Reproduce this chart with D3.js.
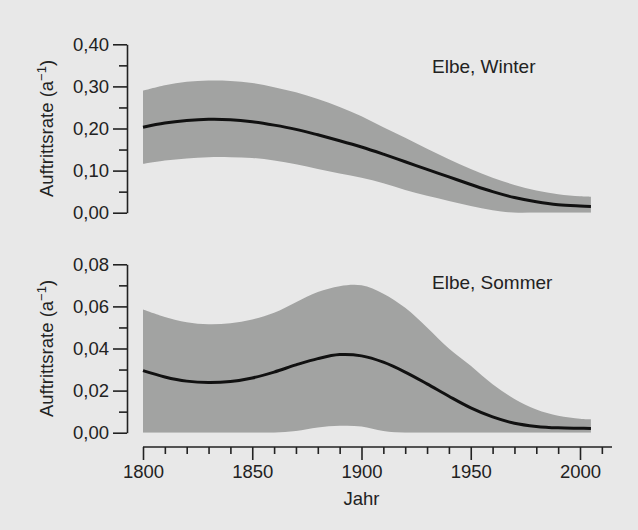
<!DOCTYPE html>
<html>
<head>
<meta charset="utf-8">
<script src="https://cdn.jsdelivr.net/npm/d3@7"></script>
<style>
  body { margin: 0; background: #e8e8e8; }
  svg { display: block; font-family: 'Liberation Sans', Arial, sans-serif; }
  .axis path, .axis line { stroke: #222; stroke-width: 1.6px; }
  .axis text { fill: #222; font-size: 18.5px; }
</style>
</head>
<body>
<svg width="638" height="530"></svg>
<script>
  const years = [1800, 1810, 1820, 1830, 1840, 1850, 1860, 1870, 1880, 1890, 1900,
    1910, 1920, 1930, 1940, 1950, 1960, 1970, 1980, 1990, 2000, 2005]

  // Elbe, Winter
  const winterMean = [0.203, 0.213, 0.219, 0.222, 0.221, 0.216, 0.208, 0.198, 0.185, 0.171, 0.156,
    0.139, 0.121, 0.103, 0.085, 0.067, 0.050, 0.036, 0.026, 0.019, 0.016, 0.015]
  const winterUpper = [0.290, 0.303, 0.311, 0.314, 0.313, 0.308, 0.298, 0.286, 0.270, 0.251, 0.229,
    0.203, 0.178, 0.152, 0.127, 0.104, 0.083, 0.066, 0.053, 0.044, 0.039, 0.038]
  const winterLower = [0.116, 0.124, 0.129, 0.132, 0.132, 0.130, 0.124, 0.115, 0.104, 0.093, 0.083,
    0.070, 0.054, 0.040, 0.028, 0.016, 0.006, 0, 0, 0, 0, 0]

  // Elbe, Sommer
  const sommerMean = [0.0295, 0.0265, 0.0245, 0.0238, 0.0243, 0.0260, 0.0288, 0.0322, 0.0352, 0.0371, 0.0365,
    0.0335, 0.0288, 0.0232, 0.0173, 0.0118, 0.0075, 0.0045, 0.0030, 0.0023, 0.0021, 0.0020]
  const sommerUpper = [0.0585, 0.0550, 0.0525, 0.0515, 0.0520, 0.0538, 0.0570, 0.0620, 0.0668, 0.0696, 0.0700,
    0.0660, 0.0593, 0.0500, 0.0400, 0.0318, 0.0230, 0.0160, 0.0110, 0.0080, 0.0066, 0.0063]
  const sommerLower = [0, 0, 0, 0, 0, 0, 0, 0.0008, 0.0025, 0.0033, 0.0030,
    0.0008, 0, 0, 0, 0, 0, 0, 0, 0, 0, 0]

  const winterTicks = [0, 0.1, 0.2, 0.3, 0.4]
  const sommerTicks = [0, 0.02, 0.04, 0.06, 0.08]
  const yearTicks = [1800, 1850, 1900, 1950, 2000]

  const svg = d3.select('svg')
  const fmt = d => d3.format('.2f')(d).replace('.', ',')
  const curve = d3.curveCatmullRom.alpha(0.5)

  const x = d3.scaleLinear().domain([1800, 2000]).range([143, 580])

  function panel(opts) {
    const y = d3.scaleLinear().domain(opts.domain).range(opts.range)
    const g = svg.append('g')
    const rows = years.map((yr, i) => ({ yr, m: opts.mean[i], hi: opts.upper[i], lo: opts.lower[i] }))

    svg.append('clipPath').
      attr('id', opts.id).
      append('rect').
      attr('x', 0).attr('y', 0).attr('width', 638).attr('height', opts.range[0])

    g.append('path').
      datum(rows).
      attr('clip-path', `url(#${opts.id})`).
      attr('fill', '#a2a3a2').
      attr('d', d3.area().curve(curve).
        x(d => x(d.yr)).y0(d => y(d.lo)).y1(d => y(d.hi)))

    g.append('path').
      datum(rows).
      attr('fill', 'none').
      attr('stroke', '#111').
      attr('stroke-width', 3).
      attr('d', d3.line().curve(curve).x(d => x(d.yr)).y(d => y(d.m)))

    // minor ticks
    const step = opts.ticks[1] - opts.ticks[0]
    g.append('g').
      attr('class', 'axis').
      attr('transform', 'translate(127,0)').
      call(d3.axisLeft(y).tickValues(opts.ticks.slice(0, -1).map(t => t + step / 2)).
        tickSize(8).tickFormat('').tickSizeOuter(0)).
      call(a => a.select('.domain').remove())

    g.append('g').
      attr('class', 'axis').
      attr('transform', 'translate(127,0)').
      call(d3.axisLeft(y).tickValues(opts.ticks).tickFormat(fmt).tickSize(14).tickPadding(4).tickSizeOuter(0))

    const mid = (opts.range[0] + opts.range[1]) / 2
    const t = g.append('text').
      attr('transform', `translate(53,${mid}) rotate(-90)`).
      attr('text-anchor', 'middle').
      attr('fill', '#222').
      style('font-size', '18.5px')
    t.append('tspan').text('Auftrittsrate (a')
    t.append('tspan').attr('dy', -7).style('font-size', '13px').text('\u22121')
    t.append('tspan').attr('dy', 7).text(')')

    g.append('text').
      attr('x', 432).
      attr('y', opts.labelY).
      attr('fill', '#222').
      style('font-size', '19px').
      text(opts.label)
  }

  panel({
    id: 'clipW', domain: [0, 0.4], range: [212.7, 44.3], ticks: winterTicks,
    mean: winterMean, upper: winterUpper, lower: winterLower,
    label: 'Elbe, Winter', labelY: 73
  })

  panel({
    id: 'clipS', domain: [0, 0.08], range: [432.7, 264.3], ticks: sommerTicks,
    mean: sommerMean, upper: sommerUpper, lower: sommerLower,
    label: 'Elbe, Sommer', labelY: 289
  })

  // x axis
  const minorYears = d3.range(1810, 2011, 10).filter(v => v % 50 !== 0)
  svg.append('g').
    attr('class', 'axis').
    attr('transform', 'translate(0,447)').
    call(d3.axisBottom(x).tickValues(minorYears).tickSize(7).tickFormat('').tickSizeOuter(0)).
    call(a => a.select('.domain').remove())

  const xAxis = svg.append('g').
    attr('class', 'axis').
    attr('transform', 'translate(0,447)').
    call(d3.axisBottom(x).tickValues(yearTicks).tickFormat(d3.format('d')).tickSize(13).tickPadding(5).tickSizeOuter(0))
  xAxis.select('.domain').attr('d', `M${x(1800)},0H612`)

  svg.append('text').
    attr('x', x(1900)).
    attr('y', 505).
    attr('text-anchor', 'middle').
    attr('fill', '#222').
    style('font-size', '18.5px').
    text('Jahr')
</script>
</body>
</html>
